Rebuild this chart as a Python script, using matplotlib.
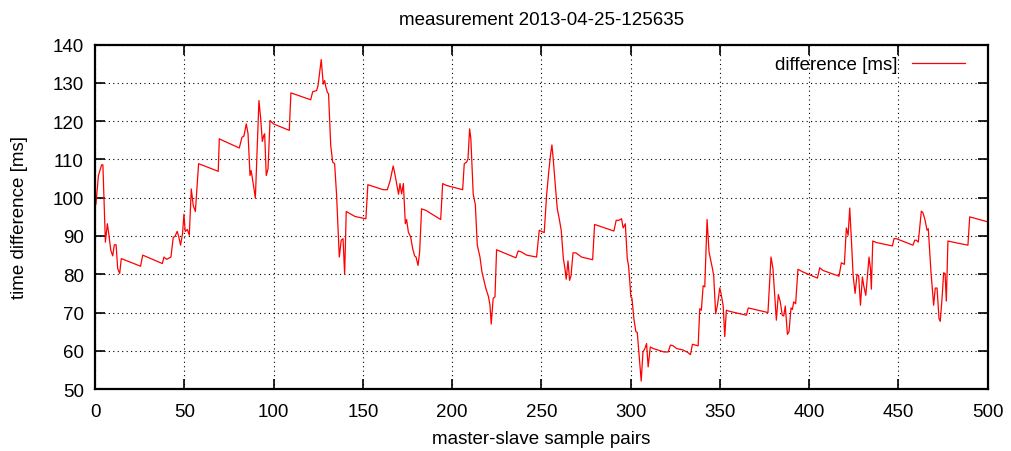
import numpy as np
import matplotlib
matplotlib.use('Agg')
import matplotlib.pyplot as plt

plt.rcParams['font.family'] = 'Liberation Sans'

# sample index vs. time difference (vertices only)
pairs = [0.5, 1.9, 3.7, 4.4, 5.8, 6.9, 7.8, 8.8, 9.9, 10.8, 11.8, 12.7, 13.8, 14.7,
         25.5, 26.7, 37.7, 38.6, 40.1, 42.5, 43.8, 44.9, 46.0, 46.8, 47.9, 49.0,
         49.8, 50.5, 51.7, 52.8, 53.9, 55.0, 56.2, 58.0, 69.0, 69.6, 71.8, 80.8,
         82.3, 83.4, 84.7, 85.7, 86.8, 87.4, 87.9, 89.8, 91.8, 92.8, 93.7, 94.5,
         95.0, 95.9, 96.9, 98.0, 99.9, 108.8, 109.7, 120.8, 121.9, 124.1, 124.9,
         126.7, 127.8, 128.6, 129.3, 130.1, 130.8, 132.0, 133.1, 134.2, 135.3,
         136.8, 137.9, 138.9, 139.8, 140.7, 145.6, 151.7, 152.8, 161.4, 163.7,
         165.2, 167.0, 168.1, 170.0, 170.8, 171.7, 172.7, 173.8, 174.5, 175.5,
         176.8, 177.9, 179.0, 179.8, 180.9, 181.8, 182.9, 185.3, 193.6, 194.7,
         196.9, 205.9, 206.8, 208.1, 208.9, 209.8, 210.5, 211.8, 213.0, 214.1,
         215.6, 216.7, 217.8, 218.9, 220.4, 221.2, 221.9, 223.0, 224.0, 224.9,
         235.7, 237.0, 238.9, 241.7, 247.3, 248.8, 250.1, 251.6, 252.9, 254.1,
         255.2, 255.9, 256.7, 257.8, 258.9, 260.0, 261.1, 262.3, 263.2, 263.9,
         264.9, 265.8, 266.6, 267.7, 269.3, 272.5, 278.7, 279.8, 282.4, 290.6,
         291.9, 293.4, 294.9, 295.8, 297.0, 298.1, 298.8, 299.6, 300.1, 300.7,
         301.8, 302.9, 303.7, 304.6, 305.9, 306.9, 308.0, 308.9, 309.8, 311.0,
         312.6, 318.6, 321.0, 322.3, 323.8, 325.7, 329.4, 331.9, 333.5, 334.6,
         337.8, 338.7, 339.6, 340.6, 341.5, 342.8, 343.9, 345.8, 346.5, 347.6,
         348.6, 349.9, 350.6, 351.8, 352.7, 353.6, 355.5, 364.8, 365.9, 376.9,
         378.6, 379.7, 381.6, 382.7, 383.8, 384.9, 385.7, 386.6, 387.8, 388.7,
         389.8, 390.6, 391.3, 392.4, 393.7, 396.5, 404.6, 405.9, 407.7, 416.7,
         418.0, 419.7, 420.8, 421.8, 422.7, 423.6, 424.6, 425.7, 426.8, 427.7,
         428.7, 429.8, 430.5, 431.7, 432.8, 433.5, 434.3, 434.8, 435.6, 437.6,
         446.6, 447.5, 448.8, 458.1, 459.1, 460.0, 461.1, 462.8, 463.7, 464.9,
         466.0, 466.7, 468.2, 469.7, 470.6, 471.6, 472.7, 473.4, 474.4, 475.3,
         476.1, 476.8, 477.7, 481.5, 488.9, 489.9, 499.2, 500.0]
diff_ms = [98.3, 105.8, 108.6, 108.6, 88.4, 93.2, 90.2, 86.3, 84.8, 87.7, 87.7, 81.5, 80.2, 84.1,
           82.1, 85.0, 82.8, 84.5, 83.9, 84.5, 89.6, 90.0, 91.2, 90.0, 87.6, 90.6,
           95.7, 91.2, 91.7, 90.2, 102.3, 98.0, 96.4, 108.9, 106.9, 115.4, 114.9, 113.0,
           115.8, 116.1, 119.3, 116.7, 105.8, 107.1, 105.8, 99.9, 125.4, 120.6, 114.7, 116.3,
           116.7, 105.8, 107.6, 120.2, 119.3, 117.6, 127.4, 125.6, 127.7, 128.0, 129.3,
           136.1, 129.7, 130.6, 128.9, 127.6, 127.1, 113.7, 109.3, 108.9, 100.6,
           84.5, 88.9, 89.3, 80.0, 96.4, 95.1, 94.5, 103.4, 102.1, 102.1,
           104.3, 108.3, 105.8, 100.9, 103.7, 101.0, 103.7, 93.2, 94.3, 91.0,
           89.7, 86.7, 84.8, 84.5, 82.3, 85.8, 97.1, 96.7, 94.3, 103.7,
           103.2, 102.1, 108.9, 109.3, 110.2, 118.0, 115.4, 101.0, 98.2, 87.6,
           84.5, 80.6, 78.4, 76.3, 74.1, 71.9, 67.0, 73.7, 74.1, 86.4,
           84.3, 86.1, 85.8, 85.0, 84.5, 91.5, 91.2, 90.9, 100.6, 106.7,
           111.5, 113.8, 109.7, 103.2, 97.1, 94.5, 91.5, 84.1, 81.5, 78.7,
           83.5, 78.4, 79.6, 85.6, 85.6, 84.5, 83.8, 93.0, 92.6, 91.3,
           94.1, 94.1, 94.5, 92.1, 93.2, 84.1, 82.3, 77.6, 74.1, 73.8,
           68.4, 65.0, 64.8, 59.7, 52.1, 59.7, 60.6, 61.9, 55.8, 61.0,
           60.6, 59.7, 59.7, 61.5, 61.3, 60.6, 60.2, 59.6, 59.0, 61.7,
           61.3, 71.0, 70.6, 77.0, 76.7, 94.3, 85.8, 81.5, 79.7, 69.7,
           71.9, 76.4, 75.0, 71.9, 63.7, 70.6, 70.3, 69.3, 71.2, 70.0,
           84.5, 81.5, 68.0, 74.7, 72.8, 69.3, 69.1, 71.7, 64.3, 65.0,
           71.2, 70.8, 72.8, 72.3, 81.3, 80.6, 79.0, 81.7, 81.0, 79.5,
           83.0, 82.6, 92.1, 90.2, 97.3, 89.3, 79.7, 75.0, 80.0, 79.6,
           71.9, 79.3, 77.1, 74.5, 80.6, 84.5, 81.5, 76.1, 88.7, 88.3,
           87.4, 89.3, 89.3, 87.6, 88.9, 88.9, 88.4, 96.5, 96.1, 94.1,
           91.5, 91.9, 80.6, 71.9, 76.4, 76.4, 68.4, 67.7, 73.7, 80.4,
           80.2, 73.0, 88.7, 88.3, 87.6, 95.0, 93.8, 93.7]

fs = 13.5

fig = plt.figure(figsize=(10.11, 4.52), dpi=100)
ax = fig.add_axes([0.094, 0.137, 0.883, 0.762])

ax.plot(pairs, diff_ms, color='red', lw=0.9, label='difference [ms]')

ax.set_xlim(0, 500)
ax.set_ylim(50, 140)
ax.set_xticks(np.arange(0, 501, 50))
ax.set_yticks(np.arange(50, 141, 10))
ax.grid(True, color='black', linestyle=(0, (1, 3)), lw=0.8)
ax.tick_params(direction='in', length=7, width=1.2, top=True, right=True, labelsize=fs)
ax.tick_params(axis='x', pad=10)
ax.tick_params(axis='y', pad=8)
for s in ax.spines.values():
    s.set_linewidth(1.6)

ax.set_xlabel('master-slave sample pairs', fontsize=fs)
ax.set_ylabel('time difference [ms]', fontsize=fs)
ax.xaxis.set_label_coords(0.5, -0.119)
ax.yaxis.set_label_coords(-0.075, 0.5)
ax.set_title('measurement 2013-04-25-125635', fontsize=fs, pad=15)
ax.legend(loc='upper right', bbox_to_anchor=(1, 1.032), frameon=False,
          markerfirst=False, fontsize=fs, handlelength=2.85,
          handletextpad=0.75, borderaxespad=0.8)

plt.savefig('out.png')
plt.close()
